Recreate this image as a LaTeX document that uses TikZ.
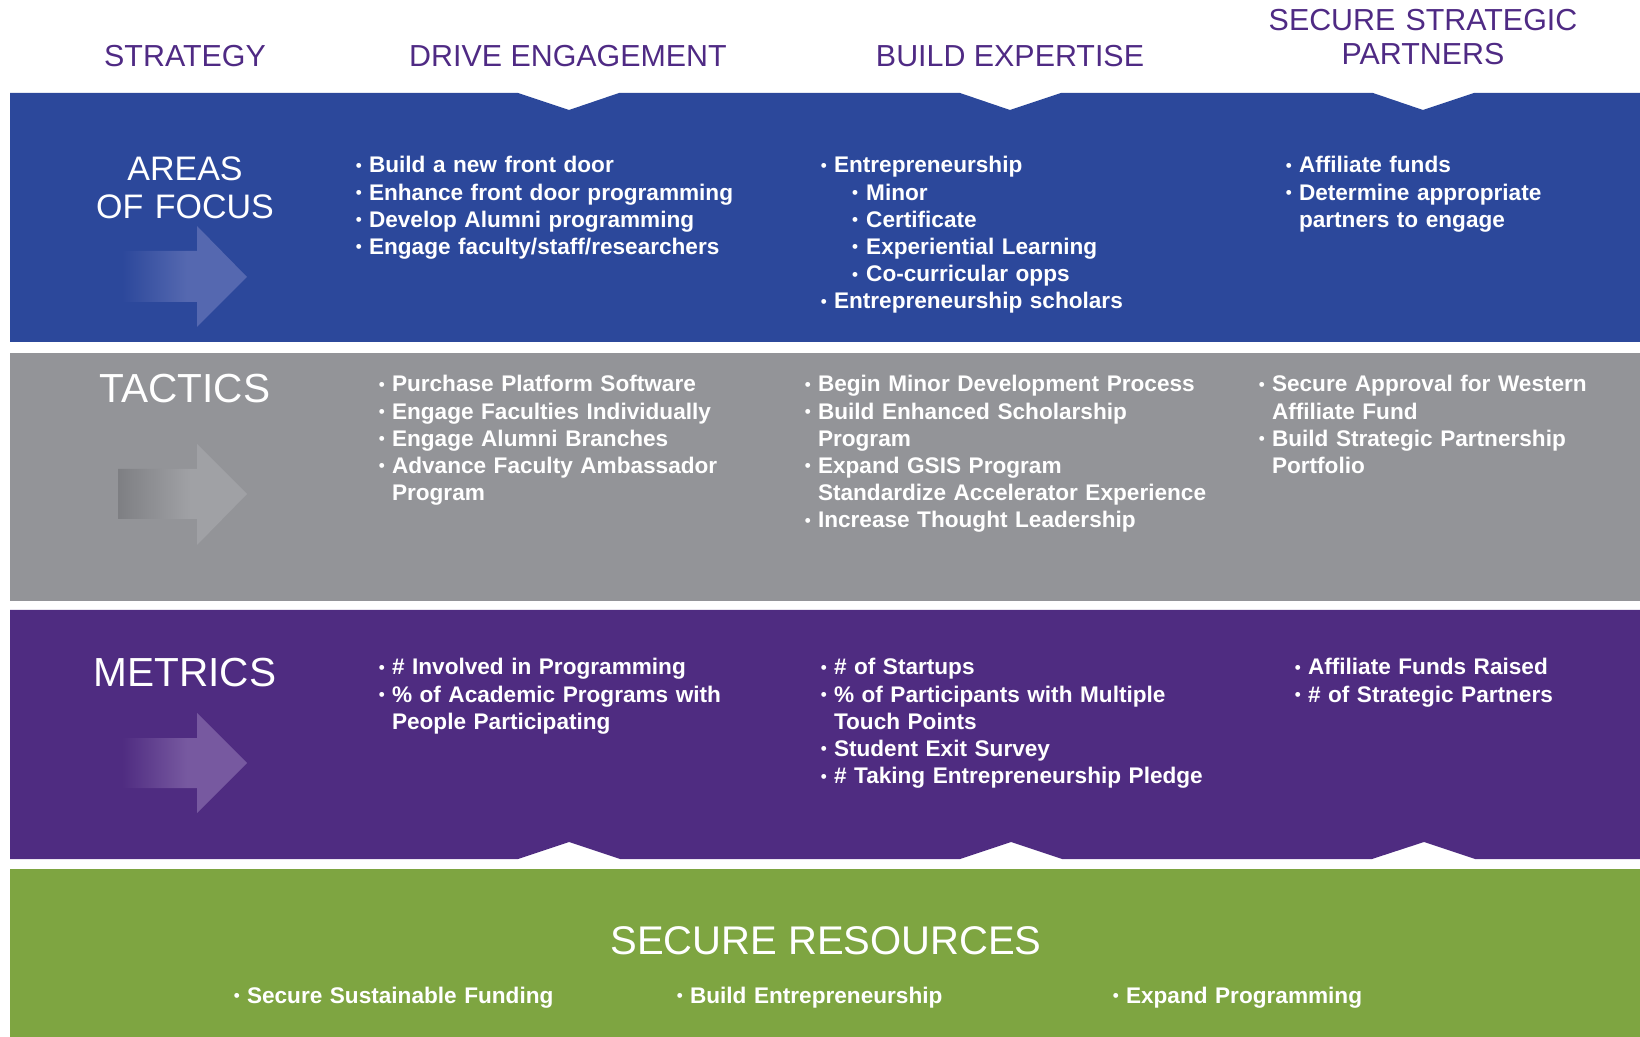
\documentclass[tikz,border=0pt]{standalone}
\usepackage{fontspec}
\setmainfont{Liberation Sans}
\usetikzlibrary{positioning}

% band and arrow colours
\definecolor{bandblue}{HTML}{2C489B}
\definecolor{bandgray}{HTML}{939498}
\definecolor{bandpurple}{HTML}{4F2C81}
\definecolor{bandgreen}{HTML}{7EA541}
\definecolor{headpurple}{HTML}{4F2A84}
\definecolor{arrowblue}{HTML}{5568B0}
\definecolor{arrowgray}{HTML}{A0A1A5}
\definecolor{arrowgraydark}{HTML}{7E7F83}
\definecolor{arrowpurple}{HTML}{7759A0}

% arrow shafts fade in from the left
\pgfdeclarehorizontalshading{fadeblue}{100bp}{color(0bp)=(bandblue); color(25bp)=(bandblue); color(51bp)=(arrowblue); color(100bp)=(arrowblue)}
\pgfdeclarehorizontalshading{fadegray}{100bp}{color(0bp)=(arrowgraydark); color(25bp)=(arrowgraydark); color(53bp)=(arrowgray); color(100bp)=(arrowgray)}
\pgfdeclarehorizontalshading{fadepurple}{100bp}{color(0bp)=(bandpurple); color(25bp)=(bandpurple); color(51bp)=(arrowpurple); color(100bp)=(arrowpurple)}

% bullets
\newcommand{\dotmark}{\raisebox{0.8pt}{\fontsize{8.5}{8.5}\selectfont\textbullet}}
\newcommand{\bitem}{\makebox[6.3pt][l]{\hspace*{-0.3pt}\dotmark}}
\newcommand{\bsub}{\hspace*{15.7pt}\makebox[6.7pt][l]{\hspace*{-0.3pt}\dotmark}}
\newcommand{\bcont}{\hspace*{6.3pt}}

\tikzset{
  head/.style={font=\fontsize{15.2}{16.6}\selectfont, text=headpurple, inner sep=0pt, anchor=base},
  rowtitle/.style={font=\fontsize{20.3}{23}\selectfont, text=white, inner sep=0pt, anchor=base},
  bullets/.style={font=\fontsize{11.3}{13.6}\selectfont\bfseries, text=white, inner sep=0pt,
    anchor=base west, text width=220pt, align=left},
}

\begin{document}
\begin{tikzpicture}[x=0.5pt,y=-0.5pt]

\useasboundingbox (0,0) rectangle (1640,1037);

% Bands
\fill[bandblue] (10,93) -- (518,93) -- (569,110) -- (619,93) -- (960,93) -- (1010,110) -- (1061,93)
  -- (1373,93) -- (1423,110) -- (1474,93) -- (1640,93) -- (1640,342) -- (10,342) -- cycle;
\fill[bandgray] (10,353) rectangle (1640,601);
\fill[bandpurple] (10,610) -- (1640,610) -- (1640,859) -- (1475,859) -- (1424,842) -- (1372,859)
  -- (1062,859) -- (1011,842) -- (960,859) -- (620,859) -- (569,842) -- (518,859) -- (10,859) -- cycle;
\fill[bandgreen] (10,869) rectangle (1640,1037);

% Arrows
\shade[shading=fadeblue] (122,251) -- (197,251) -- (197,226) -- (247,277) -- (197,327) -- (197,302) -- (122,302) -- cycle;
\shade[shading=fadegray] (118,469) -- (197,469) -- (197,444) -- (247,494) -- (197,545) -- (197,519) -- (118,519) -- cycle;
\shade[shading=fadepurple] (122,738) -- (197,738) -- (197,713) -- (247,763) -- (197,813) -- (197,788) -- (122,788) -- cycle;

% Column heads
\node[head] (strategy) at (185,66.7) {STRATEGY};
\node[head] (engagement) at (568,66.7) {DRIVE ENGAGEMENT};
\node[head] (expertise) at (1010,66.7) {BUILD EXPERTISE};
\node[head, text width=180pt, align=center] (partners) at (1423,31) {SECURE STRATEGIC\\PARTNERS};

% Row titles
\node[rowtitle, font=\fontsize{17}{19.2}\selectfont, text width=120pt, align=center] (focus) at (185,180.5) {AREAS\\OF FOCUS};
\node[rowtitle] (tactics) at (185,402.7) {TACTICS};
\node[rowtitle] (metrics) at (185,686.7) {METRICS};
\node[rowtitle, font=\fontsize{20}{23}\selectfont] (resources) at (826,954) {SECURE RESOURCES};

% Areas of focus
\node[bullets] (focusEngage) at (356,173) {\bitem Build a new front door\\\bitem Enhance front door programming\\\bitem Develop Alumni programming\\\bitem Engage faculty/staff/researchers};
\node[bullets] (focusExpert) at (821,173) {\bitem Entrepreneurship\\\bsub Minor\\\bsub Certificate\\\bsub Experiential Learning\\\bsub Co-curricular opps\\\bitem Entrepreneurship scholars};
\node[bullets] (focusPartner) at (1286,173) {\bitem Affiliate funds\\\bitem Determine appropriate\\\bcont partners to engage};

% Tactics
\node[bullets] (tacticsEngage) at (379,392) {\bitem Purchase Platform Software\\\bitem Engage Faculties Individually\\\bitem Engage Alumni Branches\\\bitem Advance Faculty Ambassador\\\bcont Program};
\node[bullets] (tacticsExpert) at (805,392) {\bitem Begin Minor Development Process\\\bitem Build Enhanced Scholarship\\\bcont Program\\\bitem Expand GSIS Program\\\bcont Standardize Accelerator Experience\\\bitem Increase Thought Leadership};
\node[bullets] (tacticsPartner) at (1259,392) {\bitem Secure Approval for Western\\\bcont Affiliate Fund\\\bitem Build Strategic Partnership\\\bcont Portfolio};

% Metrics
\node[bullets] (metricsEngage) at (379,675) {\bitem \# Involved in Programming\\\bitem \% of Academic Programs with\\\bcont People Participating};
\node[bullets] (metricsExpert) at (821,675) {\bitem \# of Startups\\\bitem \% of Participants with Multiple\\\bcont Touch Points\\\bitem Student Exit Survey\\\bitem \# Taking Entrepreneurship Pledge};
\node[bullets] (metricsPartner) at (1295,675) {\bitem Affiliate Funds Raised\\\bitem \# of Strategic Partners};

% Resources
\node[bullets] (funding) at (234,1003) {\bitem Secure Sustainable Funding};
\node[bullets] (entrepreneurship) at (677,1003) {\bitem Build Entrepreneurship};
\node[bullets] (programming) at (1113,1003) {\bitem Expand Programming};

\end{tikzpicture}
\end{document}
